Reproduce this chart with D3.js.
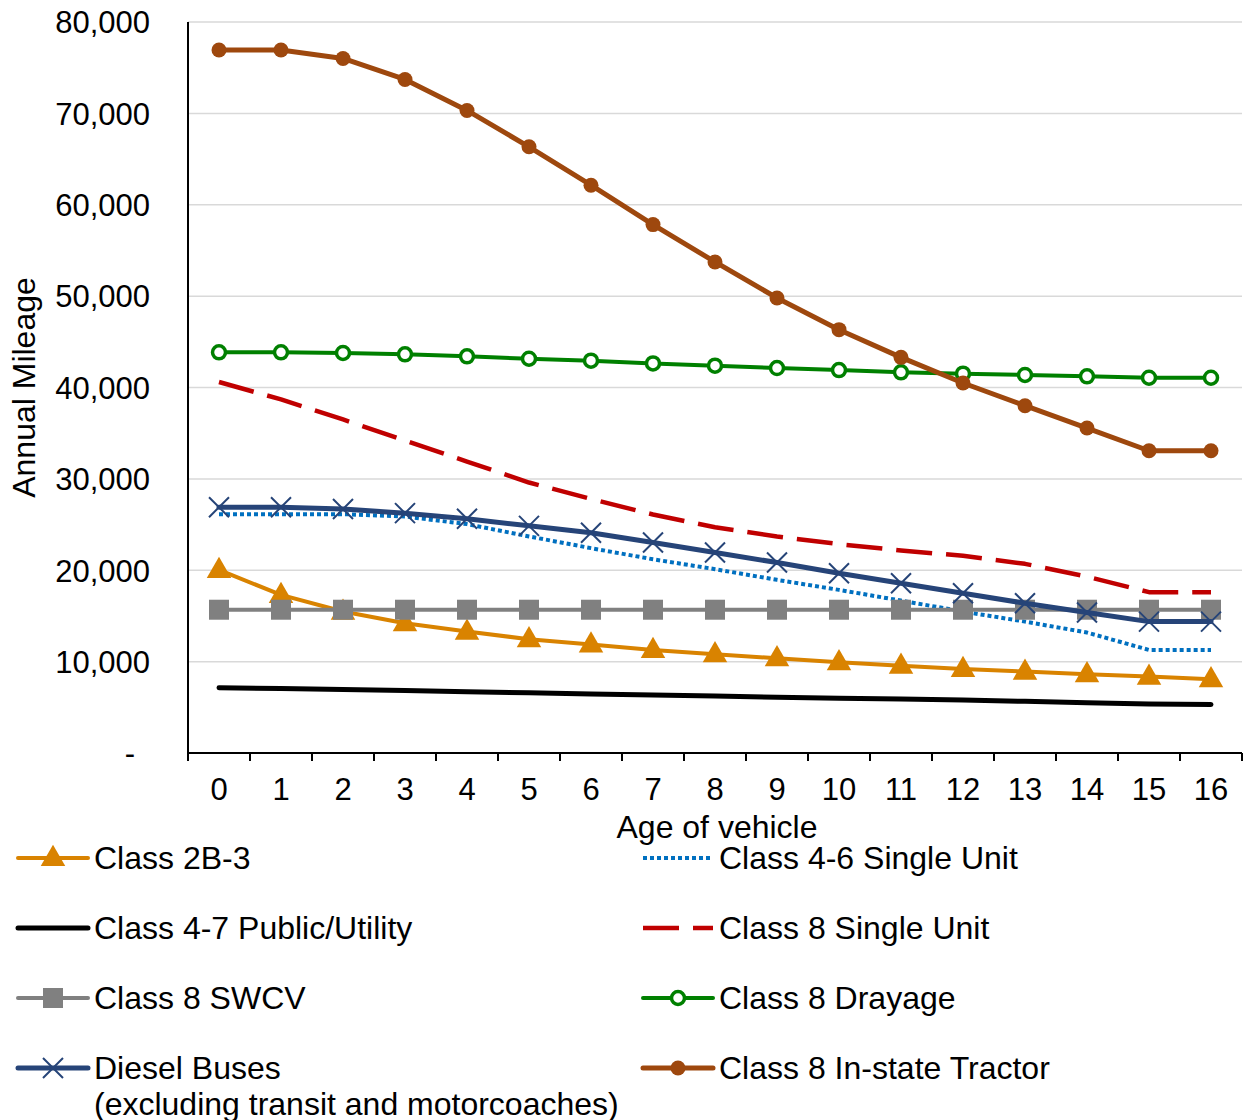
<!DOCTYPE html>
<html>
<head>
<meta charset="utf-8">
<script src="https://cdn.jsdelivr.net/npm/d3@7"></script>
<style>
  body { margin: 0; background: #fff; }
  text { font-family: "Liberation Sans", Arial, sans-serif; fill: #000; }
</style>
</head>
<body>
<div id="wrapper"></div>
<script>
// age of vehicle, 0..16
const ages = d3.range(0, 17)

const class2b3 = [20040, 17300, 15480, 14200, 13290, 12450, 11880, 11280, 10810, 10370, 9930, 9560, 9200, 8910, 8620, 8360, 8070]
const class46su = [26140, 26140, 26140, 25880, 25050, 23700, 22420, 21200, 20120, 18950, 17850, 16680, 15480, 14380, 13180, 11280, 11280]
const class47pub = [7150, 7050, 6950, 6850, 6700, 6600, 6450, 6350, 6250, 6100, 6000, 5900, 5800, 5650, 5500, 5350, 5300]
const class8su = [40600, 38700, 36500, 34200, 31900, 29600, 27800, 26100, 24700, 23700, 22860, 22160, 21580, 20700, 19310, 17600, 17600]
const class8swcv = [15680, 15680, 15680, 15680, 15680, 15680, 15680, 15680, 15680, 15680, 15680, 15680, 15680, 15680, 15680, 15680, 15680]
const class8dray = [43850, 43850, 43780, 43630, 43410, 43150, 42940, 42640, 42390, 42130, 41910, 41660, 41510, 41370, 41220, 41070, 41070]
const dieselBus = [26900, 26900, 26700, 26250, 25630, 24860, 24100, 23030, 21940, 20840, 19680, 18580, 17490, 16390, 15370, 14380, 14380]
const class8tractor = [76930, 76930, 76010, 73710, 70320, 66340, 62140, 57830, 53740, 49800, 46330, 43300, 40490, 38010, 35560, 33080, 33080]

const yTicks = [0, 10000, 20000, 30000, 40000, 50000, 60000, 70000, 80000]

async function drawChart() {
    let dimensions = {
        width: 1244,
        height: 1120,
        margin: { top: 22, right: 2, bottom: 367, left: 188 },
    }
    dimensions.boundedWidth = dimensions.width - dimensions.margin.left - dimensions.margin.right
    dimensions.boundedHeight = dimensions.height - dimensions.margin.top - dimensions.margin.bottom

    const series = [
        { name: "Class 2B-3", values: class2b3, color: "#D98300", width: 4, dash: null, marker: "triangle", col: 0, row: 0 },
        { name: "Class 4-6 Single Unit", values: class46su, color: "#0070C0", width: 4, dash: "4,3", marker: null, col: 1, row: 0 },
        { name: "Class 4-7 Public/Utility", values: class47pub, color: "#000000", width: 5, dash: null, marker: null, col: 0, row: 1 },
        { name: "Class 8 Single Unit", values: class8su, color: "#C00000", width: 4.5, dash: "36,14", marker: null, col: 1, row: 1 },
        { name: "Class 8 SWCV", values: class8swcv, color: "#808080", width: 4, dash: null, marker: "square", col: 0, row: 2 },
        { name: "Class 8 Drayage", values: class8dray, color: "#008000", width: 4, dash: null, marker: "ring", col: 1, row: 2 },
        { name: "Diesel Buses", name2: "(excluding transit and motorcoaches)", values: dieselBus, color: "#264478", width: 5, dash: null, marker: "x", col: 0, row: 3 },
        { name: "Class 8 In-state Tractor", values: class8tractor, color: "#9E480E", width: 5, dash: null, marker: "dot", col: 1, row: 3 },
    ]

    const wrapper = d3.select("#wrapper")
        .append("svg")
        .attr("width", dimensions.width)
        .attr("height", dimensions.height)

    const bounds = wrapper.append("g")
        .attr("transform", `translate(${dimensions.margin.left}, ${dimensions.margin.top})`)

    const xScale = d3.scaleBand()
        .domain(ages)
        .range([0, dimensions.boundedWidth])
    const xPos = d => xScale(d) + xScale.bandwidth() / 2

    const yScale = d3.scaleLinear()
        .domain([0, 80000])
        .range([dimensions.boundedHeight, 0])

    // gridlines
    bounds.append("g")
        .selectAll("line")
        .data(yTicks.filter(d => d > 0))
        .enter().append("line")
        .attr("x1", 0)
        .attr("x2", dimensions.boundedWidth)
        .attr("y1", d => yScale(d))
        .attr("y2", d => yScale(d))
        .attr("stroke", "#d9d9d9")
        .attr("stroke-width", 1.5)

    // y axis labels
    const yAxis = d3.axisLeft(yScale)
        .tickValues(yTicks)
        .tickSize(0)
        .tickPadding(38)
        .tickFormat(d => d === 0 ? "-" : d3.format(",")(d))
    const yAxisG = bounds.append("g").call(yAxis)
    yAxisG.select(".domain").remove()
    yAxisG.selectAll("text")
        .style("font-size", "31px")
        .attr("dy", "0.35em")
    yAxisG.selectAll(".tick").filter(d => d === 0).select("text").attr("x", -53)

    // x axis
    const xAxis = d3.axisBottom(xScale).tickSize(0).tickPadding(25)
    const xAxisG = bounds.append("g")
        .attr("transform", `translate(0, ${dimensions.boundedHeight})`)
        .call(xAxis)
    xAxisG.select(".domain").remove()
    xAxisG.selectAll("text").style("font-size", "31px").attr("dy", "0.71em")

    // x tick marks at band edges
    bounds.append("g")
        .selectAll("line")
        .data(d3.range(0, ages.length + 1))
        .enter().append("line")
        .attr("x1", i => i * xScale.step())
        .attr("x2", i => i * xScale.step())
        .attr("y1", dimensions.boundedHeight)
        .attr("y2", dimensions.boundedHeight + 8)
        .attr("stroke", "#000")
        .attr("stroke-width", 2)

    // axis lines
    bounds.append("line")
        .attr("x1", 0).attr("x2", 0)
        .attr("y1", 0).attr("y2", dimensions.boundedHeight)
        .attr("stroke", "#000").attr("stroke-width", 2)
    bounds.append("line")
        .attr("x1", 0).attr("x2", dimensions.boundedWidth)
        .attr("y1", dimensions.boundedHeight).attr("y2", dimensions.boundedHeight)
        .attr("stroke", "#000").attr("stroke-width", 2)

    // axis titles
    wrapper.append("text")
        .attr("transform", `translate(35, ${dimensions.margin.top + dimensions.boundedHeight / 2}) rotate(-90)`)
        .attr("text-anchor", "middle")
        .style("font-size", "32px")
        .text("Annual Mileage")
    wrapper.append("text")
        .attr("x", 717)
        .attr("y", 838)
        .attr("text-anchor", "middle")
        .style("font-size", "32px")
        .text("Age of vehicle")

    function drawMarker(g, type, color, x, y) {
        if (type === "triangle") {
            g.append("path")
                .attr("d", d3.symbol(d3.symbolTriangle, 260)())
                .attr("transform", `translate(${x}, ${y + 1})`)
                .attr("fill", color)
        } else if (type === "square") {
            g.append("rect")
                .attr("x", x - 10).attr("y", y - 10)
                .attr("width", 20).attr("height", 20)
                .attr("fill", color)
        } else if (type === "ring") {
            g.append("circle")
                .attr("cx", x).attr("cy", y).attr("r", 6.5)
                .attr("fill", "#fff").attr("stroke", color).attr("stroke-width", 3.5)
        } else if (type === "dot") {
            g.append("circle")
                .attr("cx", x).attr("cy", y).attr("r", 7.5)
                .attr("fill", color)
        } else if (type === "x") {
            g.append("path")
                .attr("d", `M${x - 10},${y - 10}L${x + 10},${y + 10}M${x - 10},${y + 10}L${x + 10},${y - 10}`)
                .attr("stroke", color).attr("stroke-width", 2).attr("fill", "none")
        }
    }

    const lineGen = d3.line()
        .x((d, i) => xPos(ages[i]))
        .y(d => yScale(d))

    series.forEach(s => {
        const g = bounds.append("g")
        g.append("path")
            .attr("d", lineGen(s.values))
            .attr("fill", "none")
            .attr("stroke", s.color)
            .attr("stroke-width", s.width)
            .attr("stroke-linejoin", "round")
            .attr("stroke-linecap", s.dash ? "butt" : "round")
            .attr("stroke-dasharray", s.dash)
        if (s.marker) {
            s.values.forEach((v, i) => drawMarker(g, s.marker, s.color, xPos(ages[i]), yScale(v)))
        }
    })

    // legend
    const legend = wrapper.append("g")
    const colX = [18, 643]
    const rowY = [858, 928, 998, 1068]
    series.forEach(s => {
        const lx = colX[s.col]
        const ly = rowY[s.row]
        const g = legend.append("g")
        g.append("line")
            .attr("x1", lx).attr("x2", lx + 70)
            .attr("y1", ly).attr("y2", ly)
            .attr("stroke", s.color)
            .attr("stroke-width", s.width)
            .attr("stroke-linecap", s.dash ? "butt" : "round")
            .attr("stroke-dasharray", s.dash)
        if (s.marker) drawMarker(g, s.marker, s.color, lx + 35, ly)
        g.append("text")
            .attr("x", lx + 76)
            .attr("y", ly + 11)
            .style("font-size", "32px")
            .text(s.name)
        if (s.name2) {
            g.append("text")
                .attr("x", lx + 76)
                .attr("y", ly + 47)
                .style("font-size", "32px")
                .text(s.name2)
        }
    })
}
drawChart()
</script>
</body>
</html>
